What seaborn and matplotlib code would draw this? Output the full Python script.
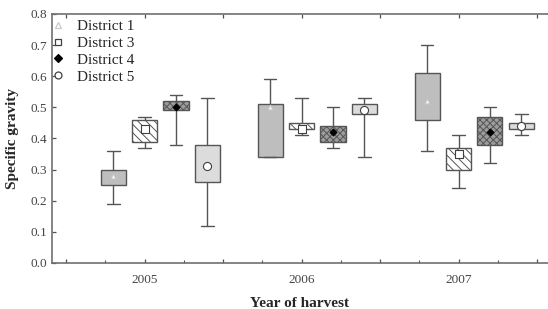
import pandas as pd
import matplotlib
matplotlib.use("Agg")
import matplotlib.pyplot as plt
from matplotlib.ticker import MultipleLocator
import seaborn as sns

# box statistics, order: year x district
years = [2005, 2006, 2007]
districts = ["District 1", "District 3", "District 4", "District 5"]
whisker_low = [0.19, 0.37, 0.38, 0.12,
               0.34, 0.41, 0.37, 0.34,
               0.36, 0.24, 0.32, 0.41]
box_low = [0.25, 0.39, 0.49, 0.26,
           0.34, 0.43, 0.39, 0.48,
           0.46, 0.30, 0.38, 0.43]
centre = [0.28, 0.43, 0.50, 0.31,
          0.50, 0.43, 0.42, 0.49,
          0.52, 0.35, 0.42, 0.44]
box_high = [0.30, 0.46, 0.52, 0.38,
            0.51, 0.45, 0.44, 0.51,
            0.61, 0.37, 0.47, 0.45]
whisker_high = [0.36, 0.47, 0.54, 0.53,
                0.59, 0.53, 0.50, 0.53,
                0.70, 0.41, 0.50, 0.48]

# slot of each district around the year tick (District 3 sits on the tick)
offsets = {"District 1": -0.2, "District 3": 0.0, "District 4": 0.2, "District 5": 0.4}
fills = {"District 1": "#bebebe", "District 3": "#ffffff",
         "District 4": "#9c9c9c", "District 5": "#dcdcdc"}
hatches = {"District 1": None, "District 3": "\\\\\\\\", "District 4": "xxxxx", "District 5": None}
markers = {"District 1": ("^", "#ffffff", "#c8c8c8", 12),
           "District 3": ("s", "#ffffff", "#404040", 26),
           "District 4": ("D", "#000000", "#000000", 12),
           "District 5": ("o", "#ffffff", "#404040", 34)}

rows = []
for i, yr in enumerate(years):
    for j, d in enumerate(districts):
        k = i * len(districts) + j
        pos = yr + offsets[d]
        # five values -> quartiles and min/max match the drawn box exactly
        for v in (whisker_low[k], box_low[k], centre[k], box_high[k], whisker_high[k]):
            rows.append({"pos": pos, "district": d, "value": v})
df = pd.DataFrame(rows)
centres = pd.DataFrame({
    "pos": [yr + offsets[d] for yr in years for d in districts],
    "district": [d for yr in years for d in districts],
    "value": centre,
})

sns.set_style("ticks")
plt.rcParams["font.family"] = ["Liberation Serif", "DejaVu Serif"]
plt.rcParams["hatch.linewidth"] = 0.7

fig = plt.figure(figsize=(5.48, 3.09), dpi=100)
ax = fig.add_axes([0.095, 0.149, 0.905, 0.806])

edge = "#555555"
for d in districts:
    n_before = len(ax.patches)
    sns.boxplot(data=df[df["district"] == d], x="pos", y="value", native_scale=True,
                orient="x", whis=(0, 100), width=0.16, color=fills[d],
                linecolor=edge, linewidth=1.0, saturation=1,
                medianprops={"linewidth": 0}, ax=ax)
    for p in ax.patches[n_before:]:
        p.set_facecolor(fills[d])
        if hatches[d]:
            p.set_hatch(hatches[d])

handles = []
for d in districts:
    m, fc, ec, s = markers[d]
    sub = centres[centres["district"] == d]
    sns.scatterplot(data=sub, x="pos", y="value", marker=m, color=fc, edgecolor=ec,
                    s=s, linewidth=0.8, zorder=5, ax=ax)
    handles.append(plt.Line2D([], [], ls="none", marker=m, markerfacecolor=fc,
                              markeredgecolor=ec, markersize=4.5 if m != "o" else 5,
                              markeredgewidth=0.9, label=d))

ax.legend(handles=handles, loc="upper left", frameon=False, fontsize=11,
          handletextpad=0.7, labelspacing=0.2, borderaxespad=0.3, handlelength=1.0,
          bbox_to_anchor=(-0.024, 1.02))

ax.set_xlim(2004.41, 2007.57)
ax.set_ylim(0, 0.8)
# major ticks every half year, labels only at the years
half_years = [2004.5, 2005, 2005.5, 2006, 2006.5, 2007, 2007.5]
ax.set_xticks(half_years)
ax.set_xticklabels([str(int(t)) if t in years else "" for t in half_years])
ax.xaxis.set_minor_locator(MultipleLocator(0.25))
ax.yaxis.set_major_locator(MultipleLocator(0.1))
ax.yaxis.set_major_formatter(plt.FormatStrFormatter("%.1f"))
ax.tick_params(axis="both", direction="in", colors="#505050", labelcolor="#444444",
               labelsize=9.5, length=3, width=0.9)
ax.tick_params(axis="x", top=True, pad=8)
ax.tick_params(axis="x", which="minor", direction="in", length=2, width=0.8,
               colors="#505050", top=False)

for side in ["left", "bottom", "top"]:
    ax.spines[side].set_color("#707070")
    ax.spines[side].set_linewidth(1.2)
ax.spines["right"].set_visible(False)

ax.set_xlabel("Year of harvest", fontsize=11, fontweight="bold", labelpad=8)
ax.set_ylabel("Specific gravity", fontsize=11, fontweight="bold", labelpad=8)

fig.savefig("out.png", dpi=100)
